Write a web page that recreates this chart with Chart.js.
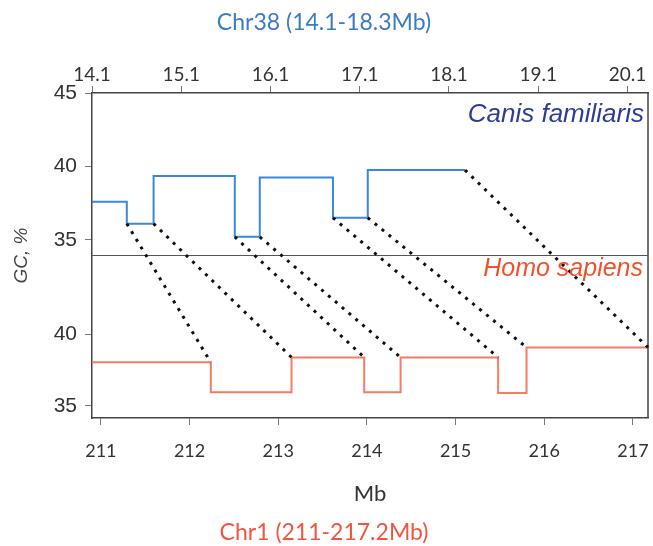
<!DOCTYPE html>
<html>
<head>
<meta charset="utf-8">
<script src="https://cdn.jsdelivr.net/npm/chart.js@4"></script>
<style>
  html, body { margin: 0; padding: 0; background: #fff; }
  #wrap { width: 653px; height: 546px; }
</style>
</head>
<body>
<div id="wrap"><canvas id="gcChart" width="653" height="546"></canvas></div>
<script>
// dog Chr38: segment start positions (Mb), last entry = end of last segment
const chr38Breaks = [14.1, 14.49, 14.79, 15.70, 15.98, 16.80, 17.19, 18.28];
const chr38GC = [37.6, 36.1, 39.35, 35.2, 39.25, 36.5, 39.75];

// human Chr1
const chr1Breaks = [210.9, 212.24, 213.15, 213.97, 214.38, 215.48, 215.80, 217.17];
const chr1GC = [38.05, 35.95, 38.4, 35.95, 38.4, 35.9, 39.1];

// block boundaries joined by the dotted lines
const linkChr38 = [14.49, 14.79, 15.70, 15.98, 16.80, 17.19, 18.28];
const linkChr38GC = [36.1, 36.1, 35.2, 35.2, 36.5, 36.5, 39.75];
const linkChr1 = [212.24, 213.15, 213.97, 214.38, 215.48, 215.80, 217.17];
const linkChr1GC = [38.05, 38.4, 38.4, 38.4, 38.4, 39.1, 39.1];

const chr38Ticks = [14.1, 15.1, 16.1, 17.1, 18.1, 19.1, 20.1];
const chr1Ticks = [211, 212, 213, 214, 215, 216, 217];
const gcTicksTop = [35, 40, 45];
const gcTicksBottom = [35, 40];

function steps(breaks, gc) {
    const pts = gc.map((v, i) => ({ x: breaks[i], y: v }));
    pts.push({ x: breaks[breaks.length - 1], y: gc[gc.length - 1] });
    return pts;
}

const tickGrid = { drawOnChartArea: false, tickLength: 7, color: '#777' };
const axisBorder = { color: '#444', width: 1.5 };

const overlayPlugin = {
    id: 'overlay',
    afterDatasetsDraw(chart) {
        const { ctx, chartArea: a, scales } = chart;
        ctx.save();
        // right frame edge and panel divider
        ctx.strokeStyle = '#444';
        ctx.lineWidth = 1.5;
        ctx.beginPath();
        ctx.moveTo(a.right, a.top);
        ctx.lineTo(a.right, a.bottom);
        ctx.stroke();
        ctx.strokeStyle = '#555';
        ctx.lineWidth = 1;
        ctx.beginPath();
        ctx.moveTo(a.left, scales.y.bottom);
        ctx.lineTo(a.right, scales.y.bottom);
        ctx.stroke();

        // dotted links
        ctx.strokeStyle = '#111';
        ctx.lineWidth = 3;
        ctx.setLineDash([3, 6]);
        linkChr38.forEach((v, i) => {
            ctx.beginPath();
            ctx.moveTo(scales.xTop.getPixelForValue(v), scales.y.getPixelForValue(linkChr38GC[i]));
            ctx.lineTo(scales.x.getPixelForValue(linkChr1[i]), scales.y2.getPixelForValue(linkChr1GC[i]));
            ctx.stroke();
        });
        ctx.setLineDash([]);

        // labels
        ctx.textAlign = 'right';
        ctx.textBaseline = 'alphabetic';
        ctx.font = 'italic 26px "Liberation Sans", Arial, sans-serif';
        ctx.fillStyle = '#2b3c9b';
        ctx.fillText('Canis familiaris', a.right - 4, 122);
        ctx.font = 'italic 25px "Liberation Sans", Arial, sans-serif';
        ctx.fillStyle = '#f2502e';
        ctx.fillText('Homo sapiens', a.right - 5, 276);

        ctx.translate(22, scales.y.bottom);
        ctx.rotate(-Math.PI / 2);
        ctx.textAlign = 'center';
        ctx.textBaseline = 'middle';
        ctx.font = 'italic 19px "Liberation Sans", Arial, sans-serif';
        ctx.fillStyle = '#444';
        ctx.fillText('GC, %', 0, 0);
        ctx.restore();
    }
};

new Chart(document.getElementById('gcChart'), {
    type: 'line',
    data: {
        datasets: [
            {
                label: 'Canis familiaris',
                data: steps(chr38Breaks, chr38GC),
                xAxisID: 'xTop',
                yAxisID: 'y',
                stepped: true,
                borderColor: '#3b88d8',
                borderWidth: 2,
                pointRadius: 0
            },
            {
                label: 'Homo sapiens',
                data: steps(chr1Breaks, chr1GC),
                xAxisID: 'x',
                yAxisID: 'y2',
                stepped: true,
                borderColor: '#f47c64',
                borderWidth: 2,
                pointRadius: 0
            }
        ]
    },
    options: {
        responsive: false,
        animation: false,
        devicePixelRatio: 1,
        layout: { padding: { right: 5 } },
        plugins: {
            legend: { display: false },
            tooltip: { enabled: false },
            title: {
                display: true,
                text: 'Chr38 (14.1-18.3Mb)',
                color: '#3d7cc4',
                font: { family: 'Lato', size: 23, weight: 'normal', lineHeight: 1.2 },
                padding: { top: 9, bottom: 0 }
            },
            subtitle: {
                display: true,
                position: 'bottom',
                text: 'Chr1 (211-217.2Mb)',
                color: '#f2553f',
                font: { family: 'Lato', size: 23, weight: 'normal', lineHeight: 1.2 },
                padding: { top: 0, bottom: 0 }
            }
        },
        scales: {
            xTop: {
                type: 'linear',
                position: 'top',
                min: 14.1,
                max: 20.33,
                afterBuildTicks: s => { s.ticks = chr38Ticks.map(v => ({ value: v })); },
                afterFit: s => { s.height = 56.4; s.paddingLeft = 0; s.paddingRight = 0; },
                ticks: {
                    autoSkip: false, maxRotation: 0, padding: 0,
                    callback: v => v.toFixed(1),
                    color: '#333',
                    font: { family: 'Lato', size: 19 }
                },
                grid: tickGrid,
                border: axisBorder
            },
            x: {
                type: 'linear',
                position: 'bottom',
                min: 210.9,
                max: 217.17,
                afterBuildTicks: s => { s.ticks = chr1Ticks.map(v => ({ value: v })); },
                afterFit: s => { s.height = 100.4; s.paddingLeft = 0; s.paddingRight = 0; },
                ticks: {
                    autoSkip: false, maxRotation: 0, padding: 0,
                    color: '#333',
                    font: { family: 'Lato', size: 18, lineHeight: 2.95 }
                },
                title: {
                    display: true,
                    text: 'Mb',
                    color: '#333',
                    font: { family: 'Lato', size: 22 },
                    padding: { top: 0, bottom: 11 }
                },
                grid: tickGrid,
                border: axisBorder
            },
            // left stacked axes are laid out last-defined on top
            y2: {
                type: 'linear',
                position: 'left',
                stack: 'gc',
                stackWeight: 1,
                min: 34.14,
                max: 45.56,
                afterBuildTicks: s => { s.ticks = gcTicksBottom.map(v => ({ value: v })); },
                afterFit: s => { s.width = 92; },
                ticks: { padding: 8, color: '#333', font: { family: 'Liberation Sans', size: 21 } },
                grid: tickGrid,
                border: axisBorder
            },
            y: {
                type: 'linear',
                position: 'left',
                stack: 'gc',
                stackWeight: 1,
                min: 33.93,
                max: 45,
                afterBuildTicks: s => { s.ticks = gcTicksTop.map(v => ({ value: v })); },
                afterFit: s => { s.width = 92; },
                ticks: { padding: 8, color: '#333', font: { family: 'Liberation Sans', size: 21 } },
                grid: tickGrid,
                border: axisBorder
            }
        }
    },
    plugins: [overlayPlugin]
});
</script>
</body>
</html>
